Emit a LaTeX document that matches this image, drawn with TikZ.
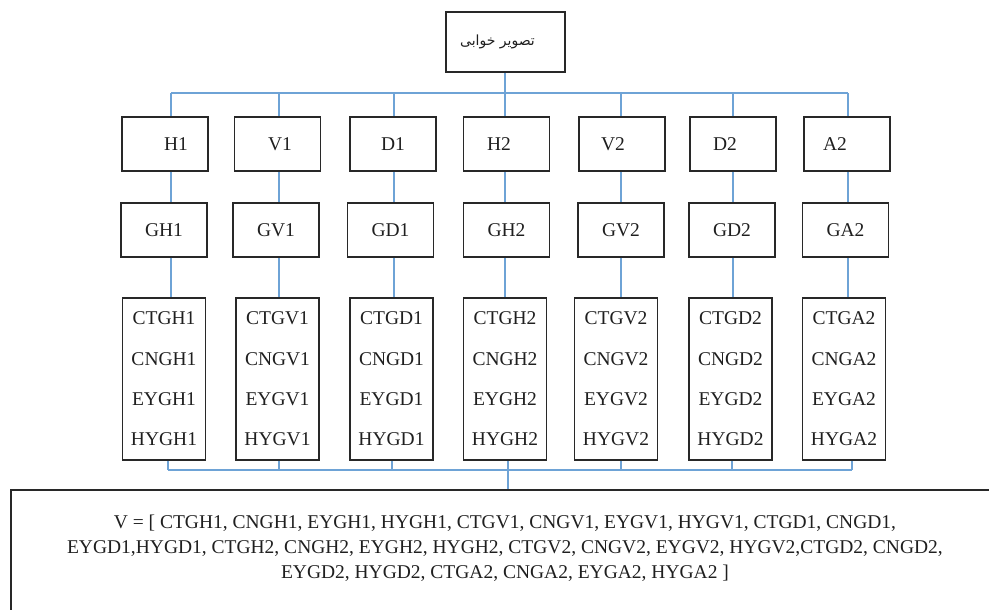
\documentclass[tikz,border=0pt]{standalone}
\usepackage{fontspec}
\setmainfont{Liberation Serif}
\newfontfamily\arabicfont[Script=Arabic]{DejaVu Sans}
\TeXXeTstate=1
\definecolor{conn}{RGB}{110,163,214}
\definecolor{edge}{RGB}{40,40,40}
\begin{document}
\begin{tikzpicture}[x=1pt,y=-1pt,
  box/.style={draw=edge,line width=1.8pt,inner sep=0pt,text=black!88,font=\fontsize{19.5}{23}\selectfont},
  small/.style={box,minimum width=86pt,minimum height=54pt},
  tall/.style={box,minimum width=83pt,minimum height=162pt,align=center,font=\fontsize{19.5}{40.3}\selectfont},
  link/.style={draw=conn,line width=1.3pt}]
\useasboundingbox (0,0) rectangle (989,610);
\clip (0,0) rectangle (989,610);

% root
\node[box,minimum width=119pt,minimum height=60pt] (root) at (505.5,42)
  {\hspace*{-16pt}{\arabicfont\fontsize{14}{16}\selectfont\beginR تصویر خوابی\endR}};

% row 1
\foreach \n/\x/\o in {H1/165/22pt, V1/277.5/5pt, D1/393/0pt, H2/506.5/-15pt, V2/622/-18pt, D2/733/-16pt, A2/847/-24pt}
  \node[small] (\n) at (\x,144) {\hspace*{\o}\n};

% row 2
\foreach \n/\x in {H1/164, V1/276, D1/390.5, H2/506.5, V2/621, D2/732, A2/845.5}
  \node[small] (G\n) at (\x,230) {G\n};

% row 3
\foreach \n/\x in {H1/164, V1/277.5, D1/391.5, H2/505, V2/616, D2/730.5, A2/844}
  \node[tall] (F\n) at (\x,379) {CTG\n\\CNG\n\\EYG\n\\HYG\n};

% bottom box
\node[box,anchor=north west,minimum width=1000pt,minimum height=170pt] (vecbox) at (10,489) {};
\node[inner sep=0pt,align=center,text=black!88,font=\fontsize{19.5}{25}\selectfont] (vec) at (505,548)
  {V = [ CTGH1, CNGH1, EYGH1, HYGH1, CTGV1, CNGV1, EYGV1, HYGV1, CTGD1, CNGD1,\\
   EYGD1,HYGD1, CTGH2, CNGH2, EYGH2, HYGH2, CTGV2, CNGV2, EYGV2, HYGV2,CTGD2, CNGD2,\\
   EYGD2, HYGD2, CTGA2, CNGA2, EYGA2, HYGA2 ]};

% bus coordinates
\foreach \i/\x in {1/171, 2/279, 3/394, 4/505, 5/621, 6/733, 7/848}
  \coordinate (t\i) at (\x,93);
\foreach \i/\x in {1/168, 2/279, 3/392, 4/508, 5/621, 6/732, 7/852}
  \coordinate (b\i) at (\x,470);

% connectors
\draw[link] (t1) -- (t7);
\draw[link] (root.south -| t4) -- (t4);
\draw[link] (b1) -- (b7);
\draw[link] (b4) -- (vecbox.north -| b4);
\foreach \n/\i in {H1/1, V1/2, D1/3, H2/4, V2/5, D2/6, A2/7}{
  \draw[link] (t\i) -- (\n.north -| t\i);
  \draw[link] (\n.south -| t\i) -- (G\n.north -| t\i);
  \draw[link] (G\n.south -| t\i) -- (F\n.north -| t\i);
  \draw[link] (F\n.south -| b\i) -- (b\i);
}
\end{tikzpicture}
\end{document}
